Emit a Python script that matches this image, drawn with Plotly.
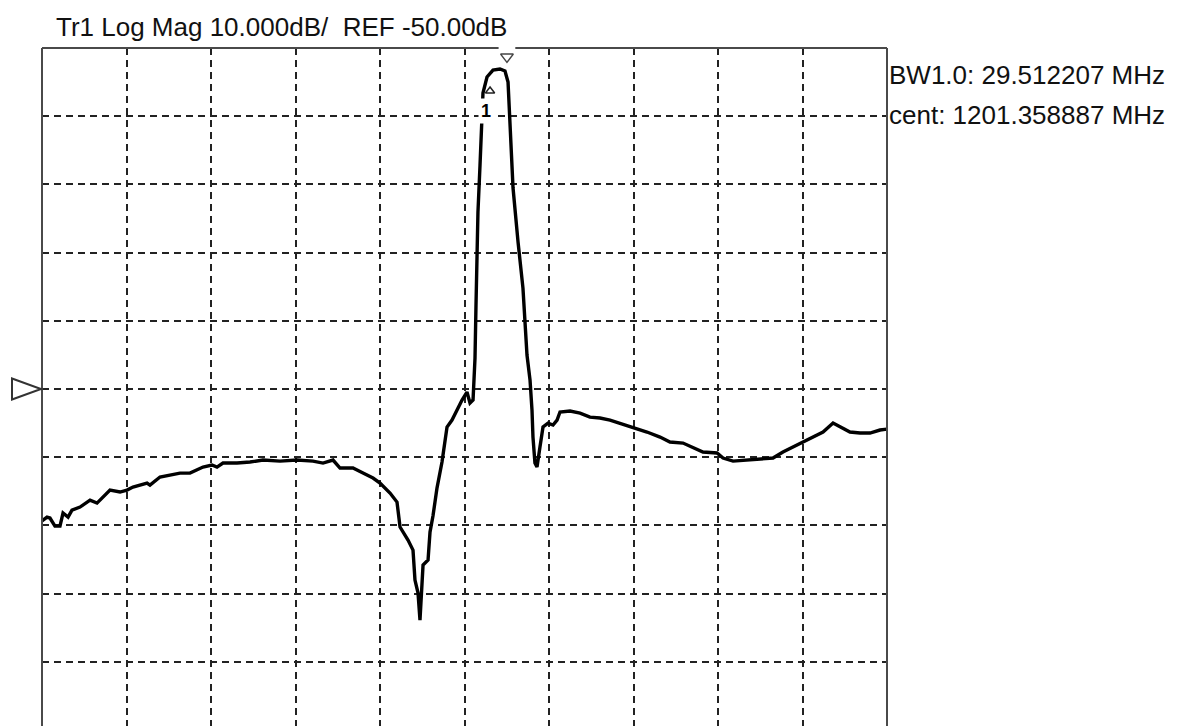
import plotly.graph_objects as go

# ---- axis settings (frequency span and dB scale) ----
F_START = 740.0
F_STOP = 1600.0
F_DIV = (F_STOP - F_START) / 10.0
DB_PER_DIV = 10.0
REF_DB = -50.0
TOP_DB = 0.0
BOTTOM_DB = -99.4   # bottom division is cut off by the window

freq_mhz = [
    740.0, 745.1, 748.1, 753.2, 758.3, 761.4, 766.5, 770.5, 778.7, 788.9,
    796.0, 809.2, 819.4, 826.5, 832.6, 846.9, 849.9, 860.1, 880.4, 890.6,
    903.9, 913.0, 918.1, 924.2, 938.5, 951.7, 964.9, 982.2, 999.5, 1015.8,
    1026.0, 1036.2, 1043.3, 1056.5, 1066.7, 1076.9, 1084.0, 1094.2, 1101.3, 1104.4,
    1112.5, 1117.6, 1119.6, 1122.7, 1124.7, 1127.8, 1132.9, 1134.9, 1137.9, 1142.0,
    1147.1, 1152.2, 1157.3, 1163.4, 1167.5, 1172.5, 1175.6, 1178.7, 1180.7, 1181.7,
    1183.7, 1185.8, 1187.8, 1188.8, 1192.9, 1199.0, 1206.1, 1211.2, 1214.3, 1216.3,
    1219.4, 1224.5, 1229.5, 1233.6, 1236.7, 1238.7, 1239.7, 1241.7, 1243.8, 1246.8,
    1249.9, 1255.0, 1260.1, 1264.2, 1267.2, 1277.4, 1287.6, 1297.7, 1307.9, 1318.1,
    1328.3, 1341.5, 1355.7, 1369.0, 1379.1, 1392.4, 1402.6, 1412.7, 1427.0, 1433.1,
    1443.3, 1457.5, 1470.7, 1484.0, 1494.1, 1504.3, 1514.5, 1524.7, 1534.9, 1545.1,
    1552.2, 1562.3, 1572.5, 1582.7, 1592.9, 1600.0,
]
mag_db = [
    -69.35, -68.77, -68.91, -70.09, -70.09, -68.18, -68.77, -67.74, -67.30, -66.28,
    -66.72, -64.81, -65.10, -64.81, -64.37, -63.78, -64.08, -62.90, -62.32, -62.32,
    -61.44, -61.14, -61.44, -60.85, -60.85, -60.70, -60.41, -60.56, -60.41, -60.56,
    -60.85, -60.41, -61.58, -61.58, -62.32, -63.05, -63.78, -65.25, -66.57, -70.23,
    -72.14, -73.61, -78.01, -79.91, -83.87, -75.81, -75.07, -70.97, -68.62, -64.52,
    -60.70, -55.57, -54.55, -52.64, -51.61, -50.44, -52.05, -51.61, -45.45, -37.68,
    -24.05, -17.16, -11.29, -6.60, -4.25, -3.23, -3.08, -3.37, -4.99, -11.73,
    -20.53, -28.45, -35.19, -45.01, -48.68, -53.08, -57.04, -60.85, -61.44, -58.50,
    -55.57, -54.99, -55.28, -54.55, -53.37, -53.23, -53.52, -54.11, -54.25, -54.55,
    -54.99, -55.57, -56.30, -57.04, -57.77, -57.92, -58.65, -59.24, -59.38, -60.12,
    -60.56, -60.41, -60.26, -60.12, -59.24, -58.50, -57.77, -57.04, -56.30, -54.99,
    -55.57, -56.30, -56.45, -56.45, -56.01, -55.87,
]

# ---- markers and annotation texts ----
marker1_f, marker1_db = 1196.0, -6.3
marker1_label_f, marker1_label_db = 1191.9, -9.2
top_marker_f, top_marker_db = 1213.2, -1.3
top_gap_mhz = 8.5

title_text = "Tr1 Log Mag 10.000dB/\u00a0 REF -50.00dB"
bw_text = "BW1.0: 29.512207 MHz"
cent_text = "cent: 1201.358887 MHz"

FONT = "Liberation Sans, Arial, sans-serif"
FRAME = "#4a4a4a"
GRID = "#222222"

fig = go.Figure()
fig.add_trace(go.Scatter(
    x=freq_mhz, y=mag_db, mode="lines",
    line=dict(color="black", width=3.4), hoverinfo="skip", showlegend=False,
))
fig.add_trace(go.Scatter(
    x=[marker1_f], y=[marker1_db], mode="markers", cliponaxis=False,
    marker=dict(symbol="triangle-up-open", size=8, color="#222", line=dict(width=1.5)),
    showlegend=False, hoverinfo="skip",
))
fig.add_trace(go.Scatter(
    x=[top_marker_f], y=[top_marker_db], mode="markers", cliponaxis=False,
    marker=dict(symbol="triangle-down-open", size=11, color="#444", line=dict(width=1.5)),
    showlegend=False, hoverinfo="skip",
))

def px(f):
    return (f - F_START) / (F_STOP - F_START)

def py(db):
    return (db - BOTTOM_DB) / (TOP_DB - BOTTOM_DB)

shapes = [
    dict(type="line", xref="paper", yref="paper", x0=0, x1=0, y0=0, y1=1,
         line=dict(color=FRAME, width=2)),
    dict(type="line", xref="paper", yref="paper", x0=1, x1=1, y0=0, y1=1,
         line=dict(color=FRAME, width=2)),
    dict(type="line", xref="paper", yref="paper", x0=0, x1=px(top_marker_f - top_gap_mhz),
         y0=1, y1=1, line=dict(color=FRAME, width=2)),
    dict(type="line", xref="paper", yref="paper", x0=px(top_marker_f + top_gap_mhz), x1=1,
         y0=1, y1=1, line=dict(color=FRAME, width=2)),
    dict(type="path", xref="paper", yref="paper", xsizemode="pixel", ysizemode="pixel",
         xanchor=0, yanchor=py(REF_DB), path="M-30,-10.5 L-30,10.5 L-1,0 Z",
         line=dict(color="#333", width=2)),
]

annotations = [
    dict(xref="paper", yref="paper", x=12 / 845, y=1, yshift=21,
         xanchor="left", yanchor="middle", showarrow=False, text=title_text,
         font=dict(family=FONT, size=26, color="#111")),
    dict(xref="paper", yref="paper", x=1, y=1, xshift=0, yshift=-27,
         xanchor="left", yanchor="middle", showarrow=False, text=bw_text,
         font=dict(family=FONT, size=26, color="#111")),
    dict(xref="paper", yref="paper", x=1, y=1, xshift=0, yshift=-67,
         xanchor="left", yanchor="middle", showarrow=False, text=cent_text,
         font=dict(family=FONT, size=26, color="#111")),
    dict(xref="x", yref="y", x=marker1_label_f, y=marker1_label_db,
         showarrow=False, text="<b>1</b>", bgcolor="white", borderpad=2,
         font=dict(family=FONT, size=18, color="black")),
]

# The page body adds an 8 px margin, so the figure is 8 px smaller each way.
fig.update_layout(
    width=1190, height=718, autosize=False,
    margin=dict(l=34, r=311, t=40, b=0, pad=0),
    paper_bgcolor="white", plot_bgcolor="white",
    shapes=shapes, annotations=annotations,
    xaxis=dict(range=[F_START, F_STOP], tick0=F_START, dtick=F_DIV,
               showgrid=True, gridcolor=GRID, gridwidth=1.5, griddash="7px,5px",
               showticklabels=False, ticks="", zeroline=False, showline=False,
               fixedrange=True),
    yaxis=dict(range=[BOTTOM_DB, TOP_DB], tick0=TOP_DB, dtick=DB_PER_DIV,
               showgrid=True, gridcolor=GRID, gridwidth=1.5, griddash="7px,5px",
               showticklabels=False, ticks="", zeroline=False, showline=False,
               fixedrange=True),
)

fig.write_html("out.html")
